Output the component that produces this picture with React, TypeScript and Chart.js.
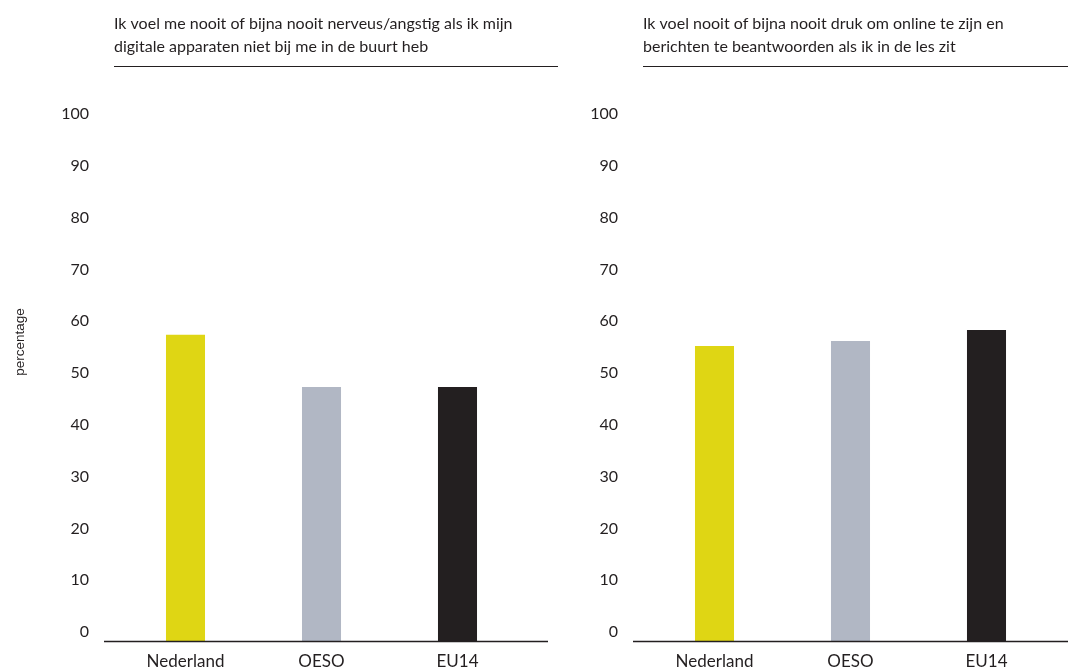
import React, { useEffect, useRef } from "react";
import { Chart, registerables } from "chart.js";

Chart.register(...registerables);

const categories = ["Nederland", "OESO", "EU14"];
const leftValues = [57.4, 47.3, 47.3];
const rightValues = [55.2, 56.2, 58.3];
const leftTitle = [
  "Ik voel me nooit of bijna nooit nerveus/angstig als ik mijn",
  "digitale apparaten niet bij me in de buurt heb",
];
const rightTitle = [
  "Ik voel nooit of bijna nooit druk om online te zijn en",
  "berichten te beantwoorden als ik in de les zit",
];
const yTickValues = [0, 10, 20, 30, 40, 50, 60, 70, 80, 90, 100];
const barColors = ["#DFD614", "#B1B7C4", "#231F20"];
const yAxisLabel = "percentage";

const TEXT = "#231F20";
const FONT = "Lato, 'Noto Sans', sans-serif";
const Y_MIN = -1.74;
const CANVAS_W = 560;
const CANVAS_H = 670;

type PanelProps = {
  values: number[];
  title: string[];
  showYLabel: boolean;
  left: number;
};

function Panel({ values, title, showYLabel, left }: PanelProps) {
  const ref = useRef<HTMLCanvasElement | null>(null);

  useEffect(() => {
    if (!ref.current) return;
    const decor = {
      id: "decor",
      afterDraw(chart: any) {
        const { ctx, chartArea } = chart;
        ctx.save();
        // baseline axis line
        ctx.strokeStyle = TEXT;
        ctx.lineWidth = 1.3;
        ctx.beginPath();
        ctx.moveTo(chartArea.left - 13.5, chartArea.bottom + 0.5);
        ctx.lineTo(chartArea.right + 22.5, chartArea.bottom + 0.5);
        ctx.stroke();
        // title
        ctx.fillStyle = TEXT;
        ctx.font = `16px ${FONT}`;
        ctx.textAlign = "left";
        ctx.textBaseline = "alphabetic";
        ctx.fillText(title[0], 114, 28.5);
        ctx.fillText(title[1], 114, 51.5);
        ctx.lineWidth = 1.2;
        ctx.beginPath();
        ctx.moveTo(114, 66.5);
        ctx.lineTo(558, 66.5);
        ctx.stroke();
        if (showYLabel) {
          ctx.translate(20, 342);
          ctx.rotate(-Math.PI / 2);
          ctx.font = `13.5px 'Liberation Sans', Arial, sans-serif`;
          ctx.textAlign = "center";
          ctx.textBaseline = "middle";
          ctx.fillText(yAxisLabel, 0, 0);
        }
        ctx.restore();
      },
    };

    const chart = new Chart(ref.current, {
      type: "bar",
      data: {
        labels: categories,
        datasets: [
          {
            data: values,
            backgroundColor: barColors,
            borderWidth: 0,
            base: Y_MIN,
            barPercentage: 0.287,
            categoryPercentage: 1,
          } as any,
        ],
      },
      options: {
        animation: false,
        responsive: false,
        maintainAspectRatio: false,
        layout: { padding: { top: 114, left: 0, right: CANVAS_W - 525.5, bottom: 0 } },
        plugins: {
          legend: { display: false },
          tooltip: { enabled: false },
          title: { display: false },
        },
        scales: {
          x: {
            grid: { display: false, drawTicks: false },
            border: { display: false },
            ticks: {
              color: TEXT,
              font: { family: FONT, size: 17 },
              padding: 10,
              maxRotation: 0,
            },
            afterFit(scale: any) {
              scale.height = 29;
            },
          },
          y: {
            min: Y_MIN,
            max: 100,
            grid: { display: false, drawTicks: false },
            border: { display: false },
            ticks: {
              color: TEXT,
              font: { family: FONT, size: 16 },
              padding: 28.5,
            },
            afterBuildTicks(scale: any) {
              scale.ticks = yTickValues.map((v) => ({ value: v }));
            },
            afterFit(scale: any) {
              scale.width = 117.5;
              scale.paddingTop = 10;
              scale.paddingBottom = 10;
            },
          },
        },
      },
      plugins: [decor],
    });
    return () => chart.destroy();
  }, [values, title, showYLabel]);

  return (
    <canvas
      ref={ref}
      width={CANVAS_W}
      height={CANVAS_H}
      style={{ position: "absolute", left, top: 0, width: CANVAS_W, height: CANVAS_H }}
    />
  );
}

export default function App() {
  return (
    <div
      style={{
        position: "fixed",
        left: 0,
        top: 0,
        width: 1068,
        height: 670,
        overflow: "hidden",
        background: "#ffffff",
      }}
    >
      <Panel values={leftValues} title={leftTitle} showYLabel={true} left={0} />
      <Panel values={rightValues} title={rightTitle} showYLabel={false} left={529} />
    </div>
  );
}
